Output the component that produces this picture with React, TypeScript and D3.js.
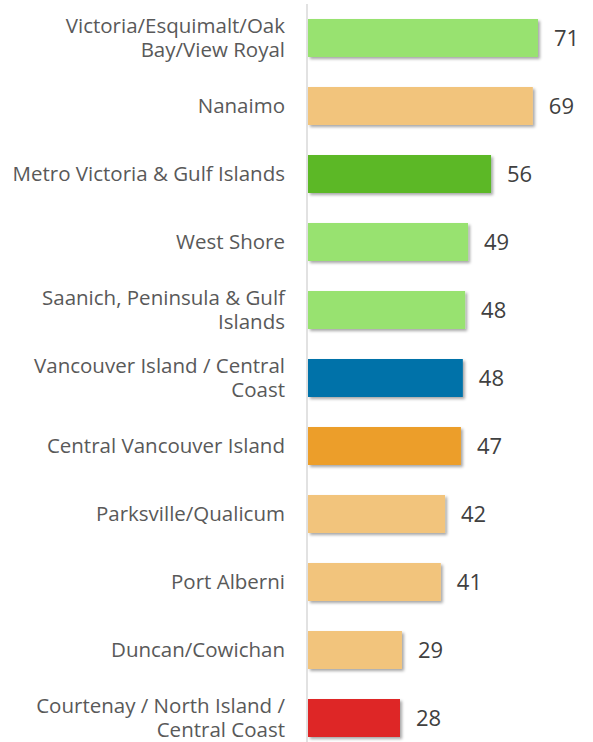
import React from "react";
import * as d3 from "d3";

const categories: string[][] = [
  ["Victoria/Esquimalt/Oak", "Bay/View Royal"],
  ["Nanaimo"],
  ["Metro Victoria & Gulf Islands"],
  ["West Shore"],
  ["Saanich, Peninsula & Gulf", "Islands"],
  ["Vancouver Island / Central", "Coast"],
  ["Central Vancouver Island"],
  ["Parksville/Qualicum"],
  ["Port Alberni"],
  ["Duncan/Cowichan"],
  ["Courtenay / North Island /", "Central Coast"],
];
const values: number[] = [71.0, 69.4, 56.5, 49.4, 48.5, 47.8, 47.2, 42.3, 41.0, 29.0, 28.4];
const labels: string[] = ["71", "69", "56", "49", "48", "48", "47", "42", "41", "29", "28"];
const colors: string[] = [
  "#98E26F", "#F2C47C", "#5BB826", "#98E26F", "#98E26F", "#0072A9",
  "#EC9E2A", "#F2C47C", "#F2C47C", "#F2C47C", "#DE2828",
];

const W = 593;
const H = 742;

export default function App() {
  const x0 = 308;
  const x = d3.scaleLinear().domain([0, 71]).range([x0, 538]);
  const y = d3
    .scaleBand<number>()
    .domain(d3.range(values.length))
    .range([4, 752])
    .paddingInner(30 / 68)
    .paddingOuter(15 / 68);
  const font = "'Open Sans', 'Segoe UI', sans-serif";
  return (
    <svg
      width={W}
      height={H}
      style={{ position: "absolute", left: 0, top: 0, background: "#fff" }}
    >
      <defs>
        <filter id="sh" x="-10%" y="-20%" width="130%" height="160%">
          <feDropShadow dx="2" dy="2" stdDeviation="1.5" floodColor="#000" floodOpacity="0.35" />
        </filter>
      </defs>
      <line x1={307} x2={307} y1={4} y2={H} stroke="#d9d9d9" strokeWidth={1.5} />
      {values.map((v, i) => {
        const by = y(i)!;
        const bh = y.bandwidth();
        const cy = by + bh / 2;
        const lines = categories[i];
        const lh = 24;
        return (
          <g key={i}>
            <rect
              x={x(0)}
              y={by}
              width={x(v) - x(0)}
              height={bh}
              fill={colors[i]}
              filter="url(#sh)"
            />
            <text
              x={x(v) + 16}
              y={cy}
              dy="0.36em"
              fontFamily={font}
              fontSize={22}
              fill="#404040"
            >
              {labels[i]}
            </text>
            {lines.map((t, j) => (
              <text
                key={j}
                x={285}
                y={cy + (j - (lines.length - 1) / 2) * lh}
                dy="0.36em"
                textAnchor="end"
                fontFamily={font}
                fontSize={20.5}
                fill="#595959"
              >
                {t}
              </text>
            ))}
          </g>
        );
      })}
    </svg>
  );
}
